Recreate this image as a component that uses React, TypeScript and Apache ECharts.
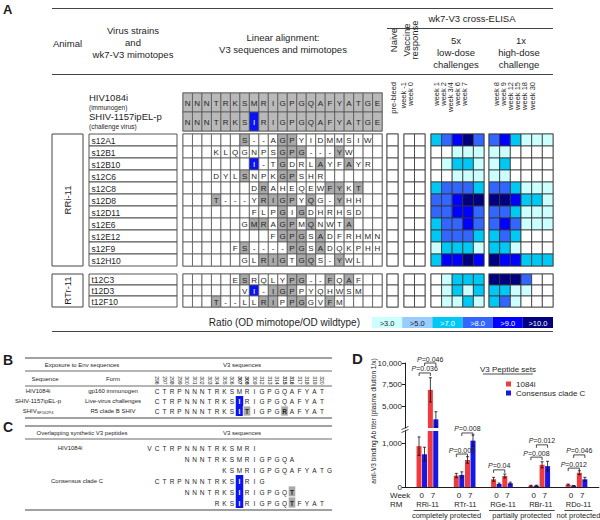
import React, { useEffect, useRef } from 'react';
import * as echarts from 'echarts';

const FONT = '"Liberation Sans", Arial, Helvetica, sans-serif';
const INK = '#1e1e1e';
const RULE = '#444444';
const GRAY_REF = '#b9b9b9';
const GRAY_HL = '#a9a9a9';
const BLUE_HL = '#0a14f2';
const RED = '#ef3b3d';
const BLUE = '#1717e8';

// ================= Panel A data =================
const refStrains = ['HIV1084i', 'SHIV-1157ipEL-p'];
const refRoles = ['(immunogen)', '(challenge virus)'];
const refV3 = ['NNNTRKSMRIGPGQAFYATGE', 'NNNTRKSIRIGPGQAFYATGE'];

const rriClones = ['s12A1', 's12B1', 's12B10', 's12C6', 's12C8', 's12D8', 's12D11', 's12E6', 's12E12', 's12F9', 's12H10'];
const rriStart = [6, 3, 7, 3, 7, 3, 7, 6, 9, 5, 6];
const rriMimotopes = ['S--AGPYIDMMSIW', 'KLQGNPSGPG---YW', 'I-TGDRLAYFAYR', 'DYLSNPKGPSHR', 'DRAHEQEWFYKT', 'T---YRIGPYQG-YHH', 'FLPGIGDHRHSD', 'GMRAGPMQNWTA', 'FGPGSADFRHMN', 'FS----PGSADQKPHH', 'GLRIGTGQS-YWL'];
const rriPreBleed = [[0], [0], [0], [0], [0], [0], [0], [0], [0], [0], [0]];
const rriVaccine = [[0, 0], [0, 0], [0, 0], [0, 0], [0, 0], [0, 0], [0, 0], [0, 0], [0, 0], [0, 0], [0, 0]];
const rriLowDose = [[7, 8, 9, 10, 8], [0, 0, 3, 3, 3], [0, 3, 7, 7, 3], [0, 0, 3, 3, 3], [7, 8, 8, 8, 7], [8, 8, 9, 10, 10], [8, 8, 9, 9, 8], [7, 8, 8, 9, 8], [7, 8, 8, 8, 7], [3, 7, 7, 7, 3], [7, 9, 9, 10, 9]];
const rriHighDose = [[8, 9, 7, 3, 3, 3], [3, 3, 0, 0, 0, 0], [3, 7, 0, 0, 0, 0], [3, 3, 0, 0, 0, 0], [8, 8, 7, 3, 3, 3], [10, 10, 9, 7, 7, 3], [8, 8, 7, 3, 3, 3], [8, 9, 8, 3, 3, 3], [7, 8, 7, 0, 0, 0], [7, 7, 3, 0, 0, 0], [10, 9, 9, 7, 7, 7]];

const rtrClones = ['t12C3', 't12D3', 't12F10'];
const rtrStart = [5, 6, 3];
const rtrMimotopes = ['ESRQLYPG--FQAF', 'VI-IGPPYQHWSM', 'T--LLRIPPGGVFM'];
const rtrPreBleed = [[0], [0], [0]];
const rtrVaccine = [[0, 0], [0, 0], [0, 0]];
const rtrLowDose = [[0, 3, 7, 7, 7], [0, 3, 7, 3, 7], [0, 3, 3, 7, 3]];
const rtrHighDose = [[10, 10, 10, 8, 0, 0], [7, 7, 3, 3, 0, 0], [7, 8, 3, 0, 0, 0]];

const elisaColLabels = [['pre-bleed'], ['week -1', 'week 0'], ['week 1', 'week 2', 'week 3/4', 'week 6', 'week 7'], ['week 8', 'week 9', 'week 12', 'week 15', 'week 18', 'week 30']];
const ratioClasses = [3, 5, 7, 8, 9, 10];
const ratioColors = ['#ccffff', '#99ccff', '#00c8f4', '#3366ff', '#0000ff', '#000080'];

// ================= Panel B / C data =================
const v3Positions = [296, 297, 298, 299, 300, 301, 302, 303, 304, 305, 306, 307, 308, 309, 312, 313, 314, 315, 316, 317, 318, 319, 320];
const boldPositions = [307, 308, 315, 316];
const exposureNames = ['HIV1084i', 'SHIV-1157ipEL-p', 'SHIV{s|SF162P4}'];
const exposureForms = ['gp160 immunogen', 'Live-virus challenges', 'R5 clade B SHIV'];
const exposureV3 = ['CTRPNNNTRKSMRIGPGQAFYAT', 'CTRPNNNTRKSIRIGPGQAFYAT', 'CTRPNNNTRKSITIGPGRAFYAT'];
const peptideSetNames = ['HIV1084i', 'Consensus clade C'];
const peptideSetOf = [0, 0, 0, 1, 1, 1];
const peptideStart = [-1, 4, 9, 0, 4, 8];
const peptides = ['VCTRPNNNTRKSMRI', 'NNNTRKSMRIGPGQA', 'KSMRIGPGQAFYATG', 'CTRPNNNTRKSIRIG', 'NNNTRKSIRIGPGQT', 'RKSIRIGPGQTFYAT'];

// ================= Panel D data =================
const animals = ['RRi-11', 'RTr-11', 'RGe-11', 'RBr-11', 'RDo-11'];
const weeks = ['0', '7'];
const protection = ['completely protected', 'partially protected', 'not protected'];
const protectionOf = [0, 0, 1, 1, 2];
const peptideSets = ['1084i', 'Consensus clade C'];
// order: animal x week
const titer1084i = [930, 6900, 260, 615, 175, 250, 30, 505, 55, 325];
const err1084i = [210, 1400, 50, 75, 45, 45, 10, 70, 12, 45];
const titerConsC = [745, 3500, 275, 1055, 70, 85, 30, 475, 30, 175];
const errConsC = [160, 880, 70, 130, 20, 25, 12, 110, 6, 45];
const yTicksUpper = [5000, 7500, 10000];
const yTicksLower = [0, 1000];
const pAnimals = ['RRi-11', 'RRi-11', 'RTr-11', 'RTr-11', 'RGe-11', 'RBr-11', 'RBr-11', 'RDo-11', 'RDo-11'];
const pSets = ['1084i', 'Consensus clade C', '1084i', 'Consensus clade C', '1084i', 'Consensus clade C', '1084i', 'Consensus clade C', '1084i'];
const pValues = ['0.036', '0.046', '0.005', '0.008', '0.04', '0.012', '0.008', '0.046', '0.012'];
const pLevels = [8850, 10000, 750, 1230, 390, 960, 680, 730, 430];

// ================= layout =================
const LA = {
  alignX: 183, colW: 9.48, refTop: 93, refH: 38,
  blocks: [{ top: 134, h: 132 }, { top: 274, h: 33 }],
  nameX: 89, nameW: 88, animalX: 52, animalW: 31,
  elisa: [{ x: 387, w: 11 }, { x: 404, w: 21 }, { x: 431, w: 53 }, { x: 489, w: 64 }],
  colLabel: [{ x0: 393, dx: 0 }, { x0: 403, dx: 7 }, { x0: 436, dx: 7 }, { x0: 496, dx: 7.2 }],
  colLabelTop: 82, ruleL: 52, ruleR: 553,
};
const LB = {
  seqX: 157, colW: 7.5, ruleL: 25, ruleR: 332, nameCX: 38, formCX: 113,
  bTop: 358, bHead: 365, bRule2: 371, bSub: 379, bRowsTop: 386, bRowH: 10, bBottom: 418,
  cTop: 426, cHead: 433, cRule2: 439, cRowsTop: 442, cRowH: 11, cBottom: 510,
};
const LD = {
  left: 405, catW: 3.77, nCat: 52, pad: 4, groupStride: 10, weekStride: 3,
  upper: { top: 363, h: 65, min: 2500, max: 10000 },
  lower: { top: 431, h: 56, min: 0, max: 1275 },
  barW: 5, barGap: 0.5,
};

function fmtNum(v: number) {
  return String(v).replace(/\B(?=(\d{3})+(?!\d))/g, ',');
}
function ratioColor(r: number) {
  let c = '#ffffff';
  ratioClasses.forEach((t, i) => { if (r >= t) c = ratioColors[i]; });
  return c;
}

function buildOption() {
  const grid: any[] = [];
  const xAxis: any[] = [];
  const yAxis: any[] = [];
  const series: any[] = [];
  const graphic: any[] = [];

  const cat = (n: number) => Array.from({ length: n }, (_, i) => 'c' + i);
  const addGrid = (left: number, top: number, width: number, height: number, nx: number, ny: number, border = '') => {
    const i = grid.length;
    grid.push({ left, top, width, height, show: !!border, borderColor: border || '#fff', borderWidth: border ? 1.5 : 0, backgroundColor: 'rgba(0,0,0,0)' });
    xAxis.push({ type: 'category', gridIndex: i, data: cat(nx), show: false });
    yAxis.push({ type: 'category', gridIndex: i, data: cat(ny), show: false, inverse: true });
    return i;
  };
  // table cells drawn through the category scales of each grid
  const heat = (gi: number, cells: any[], fs: number, border: string, bw: number, o: any = {}) => {
    series.push({
      type: 'custom', xAxisIndex: gi, yAxisIndex: gi, silent: true, clip: false, z: 3,
      data: cells.map((c) => c.value),
      encode: { x: 0, y: 1 },
      renderItem: (params: any, api: any) => {
        const cell = cells[params.dataIndex];
        const p = api.coord([api.value(0), api.value(1)]);
        const s = api.size([1, 1]);
        const x = p[0] - s[0] / 2;
        const y = p[1] - s[1] / 2;
        const bc = cell.border !== undefined ? cell.border : border;
        const bwc = cell.bw !== undefined ? cell.bw : bw;
        const children: any[] = [
          { type: 'rect', shape: { x, y, width: s[0], height: s[1] }, style: { fill: cell.fill, stroke: bwc > 0 ? bc : null, lineWidth: bwc } },
        ];
        if (cell.t) {
          children.push({
            type: 'text',
            style: {
              text: cell.t, x: o.left ? x + 2.5 : p[0], y: p[1] + 0.5,
              align: o.left ? 'left' : 'center', textAlign: o.left ? 'left' : 'center',
              verticalAlign: 'middle', textVerticalAlign: 'middle',
              fontSize: fs, fontFamily: FONT, fill: cell.color || INK, fontWeight: cell.fw || 'normal',
            },
          });
        }
        return { type: 'group', children };
      },
    });
  };
  const T = (x: number, y: number, text: string, o: any = {}) => {
    graphic.push({
      type: 'text', x, y, rotation: o.rot || 0, silent: true, z: 100,
      style: {
        text, fontSize: o.fs || 9.5, fontFamily: FONT, fill: o.fill || INK, fontWeight: o.fw || 'normal', fontStyle: o.it ? 'italic' : 'normal',
        align: o.al || 'left', textAlign: o.al || 'left', verticalAlign: o.va || 'middle', textVerticalAlign: o.va || 'middle',
        rich: o.rich,
      },
    });
  };
  const L = (x1: number, y1: number, x2: number, y2: number, w = 1, c = RULE) => {
    graphic.push({ type: 'line', silent: true, z: 100, shape: { x1, y1, x2, y2 }, style: { stroke: c, lineWidth: w } });
  };
  const R = (x: number, y: number, w: number, h: number, stroke = RULE, lw = 1) => {
    graphic.push({ type: 'rect', silent: true, z: 100, shape: { x, y, width: w, height: h }, style: { fill: 'rgba(0,0,0,0)', stroke, lineWidth: lw } });
  };

  // ================= Panel A =================
  const nAlign = refV3[0].length;
  const alignW = nAlign * LA.colW;
  const refSeq = refV3[0];
  const mutCol = [...refSeq].findIndex((ch, i) => ch !== refV3[1][i]);

  const gRef = addGrid(LA.alignX, LA.refTop, alignW, LA.refH, nAlign, refV3.length, '#9a9a9a');
  const refData: any[] = [];
  refV3.forEach((s, r) => [...s].forEach((ch, c) => {
    const mut = ch !== refSeq[c];
    refData.push({ value: [c, r], t: ch, fill: mut ? BLUE_HL : GRAY_REF, color: mut ? '#fff' : INK });
  }));
  heat(gRef, refData, 8, '#555', 0.8);
  const refRowH = LA.refH / refV3.length;
  refStrains.forEach((nm, r) => {
    const cy = LA.refTop + refRowH * (r + 0.5);
    T(LA.nameX, cy - 5, nm, { fs: 9.5 });
    T(LA.nameX, cy + 4.5, refRoles[r], { fs: 6.5 });
  });

  const blocks = [
    { animal: 'RRi-11', clones: rriClones, starts: rriStart, seqs: rriMimotopes, elisa: [rriPreBleed, rriVaccine, rriLowDose, rriHighDose] },
    { animal: 'RTr-11', clones: rtrClones, starts: rtrStart, seqs: rtrMimotopes, elisa: [rtrPreBleed, rtrVaccine, rtrLowDose, rtrHighDose] },
  ];
  blocks.forEach((b, bi) => {
    const { top, h } = LA.blocks[bi];
    const n = b.clones.length;
    const gA = addGrid(LA.alignX, top, alignW, h, nAlign, n, '#9a9a9a');
    const d: any[] = [];
    b.seqs.forEach((s, r) => {
      for (let c = 0; c < nAlign; c++) {
        const k = c - b.starts[r];
        const ch = k >= 0 && k < s.length ? s[k] : '';
        let fill = '#ffffff';
        let color = INK;
        if (ch && c === mutCol && ch === refV3[1][c]) { fill = BLUE_HL; color = '#fff'; }
        else if (ch && ch !== '-' && ch === refSeq[c]) fill = GRAY_HL;
        d.push({ value: [c, r], t: ch, fill, color });
      }
    });
    heat(gA, d, 8, '#555', 0.8);

    const gN = addGrid(LA.nameX, top, LA.nameW, h, 1, n);
    heat(gN, b.clones.map((cl, r) => ({ value: [0, r], t: cl, fill: '#fff' })), 8.5, '#444', 0.9, { left: true });

    R(LA.animalX, top, LA.animalW, h, '#444', 1);
    T(LA.animalX + LA.animalW / 2, top + h / 2, b.animal, { rot: Math.PI / 2, al: 'center', fs: 9.5 });

    LA.elisa.forEach((eg, gi) => {
      const m = b.elisa[gi];
      const nc = m[0].length;
      const g = addGrid(eg.x, top, eg.w, h, nc, n, '#9a9a9a');
      const ed: any[] = [];
      m.forEach((row: number[], r: number) => row.forEach((v, c) => ed.push({ value: [c, r], fill: ratioColor(v) })));
      heat(g, ed, 7, '#333', 0.8);
    });
  });

  // legend of ratio classes
  const gLeg = addGrid(372, 317, 181, 11, ratioClasses.length, 1);
  heat(gLeg, ratioClasses.map((t, i) => ({ value: [i, 0], t: '>' + t.toFixed(1), fill: ratioColors[i], color: i < 2 ? INK : '#fff' })), 7.5, '#fff', 0);

  // headers
  T(3, 9, 'A', { fs: 13, fw: 'bold' });
  L(LA.ruleL, 8.5, LA.ruleR, 8.5);
  T(472, 18, 'wk7-V3 cross-ELISA', { al: 'center', fs: 9.5 });
  L(387, 28.5, LA.ruleR, 28.5);
  T(53, 43, 'Animal', { fs: 9.5 });
  T(133, 30, 'Virus strains', { al: 'center' });
  T(133, 42, 'and', { al: 'center' });
  T(133, 54, 'wk7-V3 mimotopes', { al: 'center' });
  T(283, 37, 'Linear alignment:', { al: 'center' });
  T(283, 49, 'V3 sequences and mimotopes', { al: 'center' });
  T(393, 40, 'Naive', { rot: Math.PI / 2, al: 'center' });
  T(406, 40, 'Vaccine', { rot: Math.PI / 2, al: 'center' });
  T(414, 40, 'response', { rot: Math.PI / 2, al: 'center' });
  T(456, 40, '5x', { al: 'center' });
  T(456, 52, 'low-dose', { al: 'center' });
  T(456, 64, 'challenges', { al: 'center' });
  T(521, 40, '1x', { al: 'center' });
  T(519, 52, 'high-dose', { al: 'center' });
  T(519, 64, 'challenge', { al: 'center' });
  L(LA.ruleL, 74.5, LA.ruleR, 74.5);
  elisaColLabels.forEach((labs, gi) => labs.forEach((lab, i) => {
    T(LA.colLabel[gi].x0 + i * LA.colLabel[gi].dx, LA.colLabelTop, lab, { rot: Math.PI / 2, al: 'right', fs: 7.5 });
  }));
  T(360, 322.5, 'Ratio (OD mimotope/OD wildtype)', { al: 'right', fs: 10 });
  L(LA.ruleL, 331.5, LA.ruleR, 331.5);

  // ================= Panel B =================
  const bRef = exposureV3[0];
  const bMut = [...bRef].findIndex((ch, i) => ch !== exposureV3[1][i]);
  const seqCell = (ch: string, idx: number, c: number, r: number) => {
    const refCh = bRef[idx];
    const mut = idx === bMut && ch !== refCh;
    const diff = !mut && refCh !== undefined && ch !== refCh;
    return {
      value: [c, r], t: ch,
      fill: mut ? BLUE_HL : diff ? GRAY_HL : 'rgba(0,0,0,0)',
      border: diff ? '#fff' : undefined, bw: diff ? 0.8 : undefined,
      color: mut ? '#fff' : INK, fw: mut || diff ? 'bold' : 'normal',
    };
  };
  const gB = addGrid(LB.seqX - LB.colW / 2, LB.bRowsTop, LB.colW * bRef.length, LB.bRowH * exposureV3.length, bRef.length, exposureV3.length);
  xAxis[gB] = {
    type: 'category', gridIndex: gB, position: 'top', data: v3Positions.map(String),
    axisLine: { show: false }, axisTick: { show: false },
    axisLabel: {
      rotate: 90, interval: 0, margin: 1.5, fontSize: 5, fontFamily: FONT, color: INK,
      formatter: (v: string) => (boldPositions.includes(+v) ? `{b|${v}}` : v),
      rich: { b: { fontWeight: 'bold', fontSize: 5, fontFamily: FONT, color: INK } },
    },
  };
  const bData: any[] = [];
  exposureV3.forEach((s, r) => [...s].forEach((ch, c) => bData.push(seqCell(ch, c, c, r))));
  heat(gB, bData, 6.5, 'rgba(0,0,0,0)', 0);

  T(3, 360, 'B', { fs: 14, fw: 'bold' });
  L(LB.ruleL, LB.bTop, LB.ruleR, LB.bTop, 1.2);
  T(82, LB.bHead, 'Exposure to Env sequences', { al: 'center', fs: 6 });
  T(242, LB.bHead, 'V3 sequences', { al: 'center', fs: 6 });
  L(LB.ruleL, LB.bRule2, LB.ruleR, LB.bRule2, 0.8);
  T(45, LB.bSub, 'Sequence', { al: 'center', fs: 6 });
  T(LB.formCX, LB.bSub, 'Form', { al: 'center', fs: 6 });
  L(LB.ruleL, LB.bRowsTop, LB.ruleR, LB.bRowsTop, 0.8);
  exposureNames.forEach((nm, r) => {
    const cy = LB.bRowsTop + LB.bRowH * (r + 0.5);
    T(LB.nameCX, cy, nm, { al: 'center', fs: 6, rich: { s: { fontSize: 4, fontFamily: FONT, fill: INK, padding: [3, 0, 0, 0] } } });
    T(LB.formCX, cy, exposureForms[r], { al: 'center', fs: 6 });
  });
  L(LB.ruleL, LB.bBottom, LB.ruleR, LB.bBottom, 1.2);

  // ================= Panel C =================
  const minStart = Math.min(...peptideStart);
  const maxEnd = Math.max(...peptides.map((p, i) => peptideStart[i] + p.length));
  const nC = maxEnd - minStart;
  const gC = addGrid(LB.seqX + minStart * LB.colW - LB.colW / 2, LB.cRowsTop, LB.colW * nC, LB.cRowH * peptides.length, nC, peptides.length);
  const cData: any[] = [];
  peptides.forEach((s, r) => [...s].forEach((ch, k) => {
    const idx = peptideStart[r] + k;
    cData.push(seqCell(ch, idx, idx - minStart, r));
  }));
  heat(gC, cData, 6.5, 'rgba(0,0,0,0)', 0);

  T(3, LB.cTop + 1, 'C', { fs: 14, fw: 'bold' });
  L(LB.ruleL, LB.cTop, LB.ruleR, LB.cTop, 1.2);
  T(82, LB.cHead, 'Overlapping synthetic V3 peptides', { al: 'center', fs: 6 });
  T(242, LB.cHead, 'V3 sequences', { al: 'center', fs: 6 });
  L(LB.ruleL, LB.cRule2, LB.ruleR, LB.cRule2, 0.8);
  peptideSetNames.forEach((nm, si) => {
    const r = peptideSetOf.indexOf(si);
    T(si === 0 ? 70 : 77, LB.cRowsTop + LB.cRowH * (r + 0.5), nm, { al: 'center', fs: 6 });
  });
  L(LB.ruleL, LB.cBottom, LB.ruleR, LB.cBottom, 1.2);

  // ================= Panel D =================
  const catOf = (a: number, w: number) => LD.pad + a * LD.groupStride + w * LD.weekStride;
  const catX = (i: number) => LD.left + LD.catW * (i + 0.5);
  const catLabels = Array(LD.nCat).fill('');
  animals.forEach((_, a) => weeks.forEach((w, wi) => { catLabels[catOf(a, wi)] = w; }));
  const off = LD.barW / 2 + LD.barGap / 2;
  const sets = [
    { name: peptideSets[0], vals: titer1084i, errs: err1084i, color: RED, side: -1 },
    { name: peptideSets[1], vals: titerConsC, errs: errConsC, color: BLUE, side: 1 },
  ];
  (['upper', 'lower'] as const).forEach((key) => {
    const cfg = LD[key];
    const gi = grid.length;
    grid.push({ left: LD.left, top: cfg.top, width: LD.catW * LD.nCat, height: cfg.h, show: false });
    const ticks = key === 'upper' ? yTicksUpper : yTicksLower;
    xAxis.push({
      type: 'category', gridIndex: gi, data: cat(LD.nCat), show: key === 'lower',
      axisLine: { show: key === 'lower', lineStyle: { color: INK, width: 1 } }, axisTick: { show: false },
      axisLabel: { show: key === 'lower', interval: 0, margin: 4, fontSize: 8, fontFamily: FONT, color: INK, formatter: (_v: string, i: number) => catLabels[i] },
    });
    yAxis.push({
      type: 'value', gridIndex: gi, min: cfg.min, max: cfg.max, splitLine: { show: false },
      axisLine: { show: true, lineStyle: { color: INK, width: 1 } },
      axisTick: { show: true, length: 3, customValues: ticks, lineStyle: { color: INK } },
      axisLabel: { customValues: ticks, fontSize: 8, fontFamily: FONT, color: INK, margin: 3, formatter: (v: number) => (ticks.includes(v) ? fmtNum(v) : '') },
    });
    sets.forEach((s) => {
      const data = Array(LD.nCat).fill('-');
      const errData: any[] = [];
      animals.forEach((_, a) => weeks.forEach((__, w) => {
        const v = s.vals[a * weeks.length + w];
        const e = s.errs[a * weeks.length + w];
        const c = catOf(a, w);
        if (key === 'lower' || v > cfg.min) data[c] = v;
        if ((key === 'upper' && v > cfg.min) || (key === 'lower' && v <= cfg.max)) errData.push([c, v, e, s.side]);
      }));
      series.push({ type: 'bar', name: s.name, xAxisIndex: gi, yAxisIndex: gi, data, barWidth: LD.barW, barGap: (LD.barGap / LD.barW * 100) + '%', clip: true, silent: true, itemStyle: { color: s.color } });
      series.push({
        type: 'custom', xAxisIndex: gi, yAxisIndex: gi, data: errData, silent: true, z: 5, encode: { x: 0, y: 1 },
        renderItem: (_p: any, api: any) => {
          const c = api.value(0), v = api.value(1), e = api.value(2), sd = api.value(3);
          const t = api.coord([c, v + e]);
          const b = api.coord([c, Math.max(v - e, 0)]);
          const x = t[0] + sd * off;
          const st = { stroke: '#111', lineWidth: 0.8 };
          return {
            type: 'group', children: [
              { type: 'line', shape: { x1: x, y1: t[1], x2: x, y2: b[1] }, style: st },
              { type: 'line', shape: { x1: x - 1.5, y1: t[1], x2: x + 1.5, y2: t[1] }, style: st },
              { type: 'line', shape: { x1: x - 1.5, y1: b[1], x2: x + 1.5, y2: b[1] }, style: st },
            ],
          };
        },
      });
    });
    // significance brackets
    const br: any[] = [];
    pAnimals.forEach((an, k) => {
      const lv = pLevels[k];
      const inUpper = lv > LD.lower.max;
      if ((key === 'upper') !== inUpper) return;
      const a = animals.indexOf(an);
      br.push([catOf(a, 0), catOf(a, 1), lv, pSets[k] === peptideSets[0] ? -1 : 1, k]);
    });
    series.push({
      type: 'custom', xAxisIndex: gi, yAxisIndex: gi, data: br, silent: true, z: 6, encode: { x: 0, y: 2 },
      renderItem: (_p: any, api: any) => {
        const p0 = api.coord([api.value(0), api.value(2)]);
        const p1 = api.coord([api.value(1), api.value(2)]);
        const sd = api.value(3);
        const k = api.value(4);
        const x0 = p0[0] + sd * off, x1 = p1[0] + sd * off, y = p0[1];
        return {
          type: 'group', children: [
            { type: 'polyline', shape: { points: [[x0, y + 3], [x0, y], [x1, y], [x1, y + 3]] }, style: { stroke: INK, lineWidth: 0.8, fill: null } },
            {
              type: 'text', style: {
                text: `{i|P}=${pValues[k]}`, x: (x0 + x1) / 2, y: y - 0.5, align: 'center', textAlign: 'center', verticalAlign: 'bottom', textVerticalAlign: 'bottom',
                fontSize: 7, fontFamily: FONT, fill: INK, rich: { i: { fontStyle: 'italic', fontSize: 7, fontFamily: FONT, fill: INK } },
              },
            },
          ],
        };
      },
    });
  });

  // axis break marks
  L(401.5, 429.5, 408.5, 426.5, 0.8, INK);
  L(401.5, 432.5, 408.5, 429.5, 0.8, INK);
  T(352, 358, 'D', { fs: 15, fw: 'bold' });
  T(373, 421, 'anti-V3 binding Ab titer (plasma dilution 1/x)', { rot: Math.PI / 2, al: 'center', fs: 6.5 });
  T(508, 369.5, 'V3 Peptide sets', { al: 'center', fs: 8 });
  L(483, 374, 533, 374, 0.8, INK);
  T(390, 495, 'Week', { fs: 8 });
  T(390, 504.5, 'RM', { fs: 8 });
  animals.forEach((an, a) => {
    T((catX(catOf(a, 0)) + catX(catOf(a, 1))) / 2, 504.5, an, { al: 'center', fs: 7.5 });
  });
  protection.forEach((pr, pi) => {
    const members = animals.map((_, a) => a).filter((a) => protectionOf[a] === pi);
    const cx0 = (catX(catOf(members[0], 0)) + catX(catOf(members[0], 1))) / 2;
    const cx1 = (catX(catOf(members[members.length - 1], 0)) + catX(catOf(members[members.length - 1], 1))) / 2;
    const x0 = cx0 - 14, x1 = cx1 + 14;
    L(x0, 510.5, x1, 510.5, 0.8, INK);
    T((x0 + x1) / 2, 515.5, pr, { al: 'center', fs: 7.5 });
  });

  return {
    animation: false,
    backgroundColor: '#ffffff',
    textStyle: { fontFamily: FONT },
    grid, xAxis, yAxis, series,
    legend: {
      data: peptideSets, orient: 'vertical', left: 501, top: 375, itemWidth: 5, itemHeight: 5, itemGap: 1, icon: 'rect',
      selectedMode: false, textStyle: { fontSize: 8, fontFamily: FONT, color: INK },
    },
    graphic: { elements: graphic },
  };
}

export default function App() {
  const ref = useRef<HTMLDivElement>(null);
  useEffect(() => {
    if (!ref.current) return;
    const chart = echarts.init(ref.current, null, { renderer: 'svg' });
    chart.setOption(buildOption() as any);
    return () => chart.dispose();
  }, []);
  return <div ref={ref} style={{ position: 'absolute', left: 0, top: 0, width: 600, height: 520, background: '#fff' }} />;
}
